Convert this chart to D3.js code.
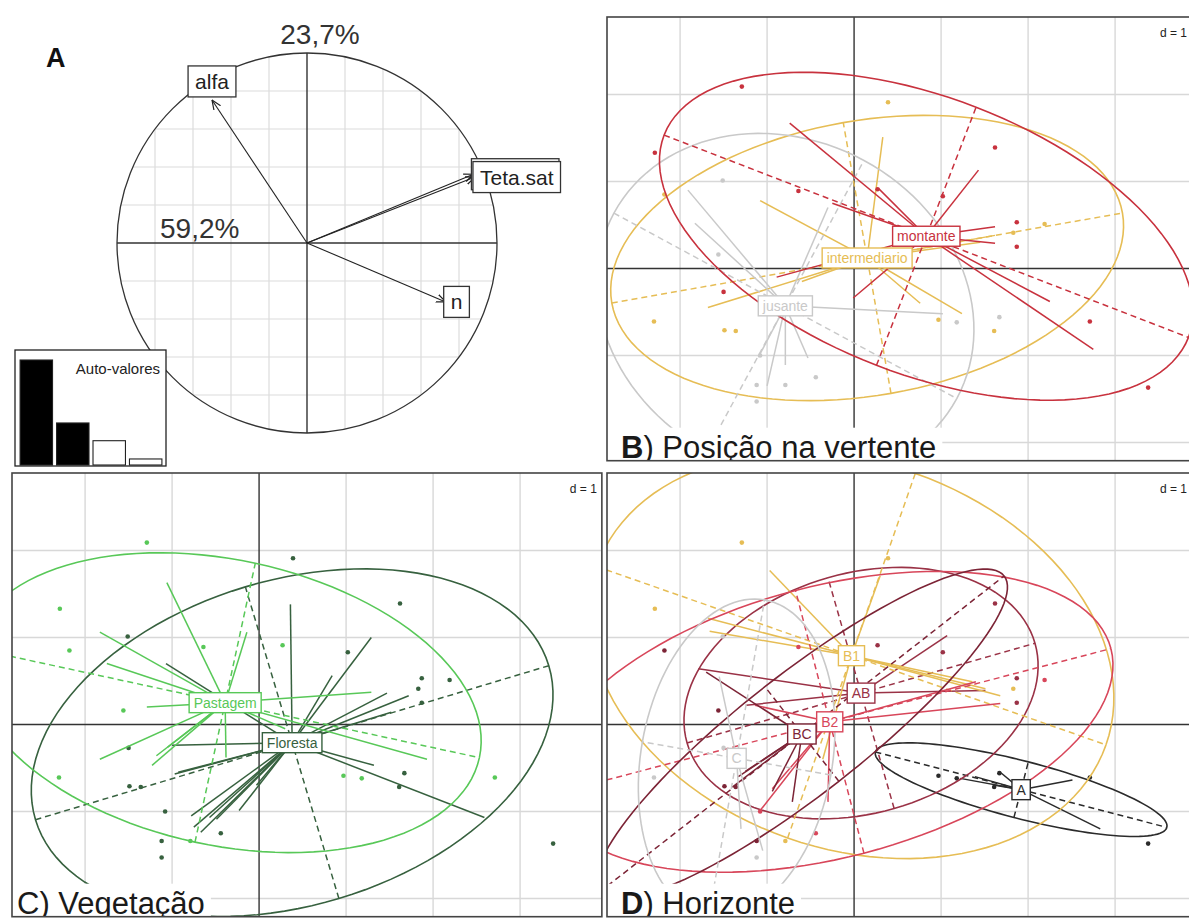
<!DOCTYPE html>
<html>
<head>
<meta charset="utf-8">
<script src="https://cdn.jsdelivr.net/npm/d3@7"></script>
<style>
  body { margin: 0; background: #fff; }
  svg { display: block; font-family: "Liberation Sans", Arial, Helvetica, sans-serif; }
</style>
</head>
<body>
<svg id="fig" width="1189" height="920"></svg>
<script>
// ---------------- Panel A: correlation circle + eigenvalues ----------------
const eigenvalues = [2.368, 0.948, 0.548, 0.136];
const varNames = ["alfa", "Teta.sat", "Teta.sat", "n"];
const varX = [-0.50, 0.876, 0.884, 0.73];
const varY = [0.753, 0.362, 0.347, -0.31];
const gridA = [-0.8, -0.6, -0.4, -0.2, 0.2, 0.4, 0.6, 0.8];

// ---------------- Panels B-D: individual scores on axes 1-2 ----------------
const xLim = [-2.84, 3.94];
const yLim = [-2.21, 2.89];

const obsX = [-1.29, 0.39, -2.29, 1.62, -1.51, -2.18, -0.64, 0.27, 1.02, 1.87, 2.19, 1.83, 1.87, -1.56, -1.50,
              -1.49, -1.36, -2.30, 0.97, 1.18, 1.67, 1.61, 2.71, -1.08, -0.44, -0.79, -1.12, -1.12, 3.38];
const obsY = [2.09, 1.91, 1.33, 1.39, 1.01, 0.85, 0.89, 0.91, 0.83, 0.53, 0.51, 0.41, 0.25, 0.16, -0.27,
              -0.71, -0.72, -0.61, -0.59, -0.62, -0.56, -0.72, -0.61, -1.00, -1.25, -1.34, -1.34, -1.53, -1.37];
const obsPos = ["montante", "intermediario", "montante", "montante", "jusante", "intermediario", "montante",
                "montante", "montante", "montante", "intermediario", "intermediario", "montante", "jusante",
                "montante", "intermediario", "intermediario", "intermediario", "intermediario", "jusante",
                "jusante", "intermediario", "montante", "jusante", "jusante", "jusante", "jusante", "jusante",
                "montante"];
const obsVeg = ["Pastagem", "Floresta", "Pastagem", "Floresta", "Floresta", "Pastagem", "Pastagem", "Pastagem",
                "Floresta", "Floresta", "Floresta", "Floresta", "Floresta", "Pastagem", "Floresta", "Floresta",
                "Floresta", "Pastagem", "Pastagem", "Pastagem", "Floresta", "Floresta", "Pastagem", "Floresta",
                "Floresta", "Pastagem", "Floresta", "Floresta", "Floresta"];
const obsHor = ["B1", "B1", "B1", "AB", "C", "BC", "B2", "AB", "AB", "AB", "B2", "B1", "AB", "BC", "C",
                "BC", "BC", "C", "A", "A", "A", "A", "A", "B2", "B2", "B1", "BC", "C", "A"];

// B) slope position
const posLevels = ["intermediario", "jusante", "montante"];
const posColors = ["#e6bd55", "#c9c9c9", "#c8323e"];
const posCx = [0.15, -0.79, 0.83];
const posCy = [0.12, -0.43, 0.37];
const posA = [2.98, 2.24, 3.23];
const posB = [1.58, 1.90, 1.59];
const posAng = [10.0, -28.4, -21.1];
const posStars = [
  [[-1.08, 0.78], [0.33, 1.51], [-1.68, -0.45], [1.62, 0.38], [1.24, -0.52], [0.76, -0.40], [-0.60, -0.15], [1.45, 0.30]],
  [[-1.91, 0.90], [-1.83, 0.52], [-0.30, 0.70], [1.02, -0.52], [-1.10, -1.02], [-0.79, -1.11], [-0.53, -1.03], [-1.00, -1.35]],
  [[-0.74, 1.67], [-0.25, 0.75], [1.43, 1.13], [1.62, 0.48], [1.62, 0.29], [2.25, -0.38], [2.75, -0.93], [-0.01, -0.34], [-0.89, -0.10], [0.28, 0.92]]
];

// C) vegetation
const vegLevels = ["Floresta", "Pastagem"];
const vegColors = ["#37613f", "#58c858"];
const vegCx = [0.38, -0.39];
const vegCy = [-0.21, 0.25];
const vegA = [3.08, 2.99];
const vegB = [1.87, 1.64];
const vegAng = [16.7, -12.2];
const vegStars = [
  [[-1.00, -0.24], [-0.97, -0.57], [-0.93, -0.55], [-0.78, -1.05], [-0.75, -1.18], [-0.67, -1.24], [-0.57, -1.07],
   [-0.49, -1.09], [-0.23, -0.99], [-0.03, -0.70], [0.36, 1.38], [1.29, 1.00], [0.84, 0.56], [1.47, 0.36],
   [1.72, 0.33], [1.52, 0.14], [1.32, -0.47], [2.59, -1.07], [-1.07, 0.70]],
  [[-1.06, 1.63], [-1.83, 1.06], [-1.75, 0.70], [-1.29, 0.20], [-0.14, 1.06], [-1.83, -0.40], [-1.23, -0.47],
   [-1.18, -0.36], [-1.05, -0.26], [-0.38, -0.38], [1.29, 0.37], [1.93, -0.40], [0.30, -0.05]]
];

// D) soil horizon
const horLevels = ["A", "AB", "B1", "B2", "BC", "C"];
const horColors = ["#2b2b2b", "#9a3246", "#e6bd55", "#d8465a", "#7c2436", "#c9c9c9"];
const horCx = [1.92, 0.08, -0.03, -0.28, -0.60, -1.35];
const horCy = [-0.75, 0.36, 0.79, 0.03, -0.11, -0.39];
const horA = [1.73, 2.08, 3.10, 3.34, 2.95, 1.85];
const horB = [0.33, 1.38, 2.22, 1.56, 0.69, 1.10];
const horAng = [-14.5, 16.0, -19.3, 14.6, 38.0, 80.0];
const horStars = [
  [[1.22, -0.62], [1.39, -0.60], [1.62, -0.70], [1.68, -0.55], [2.51, -0.64], [2.83, -1.20]],
  [[-1.24, 0.22], [-1.79, 0.64], [1.51, 0.39], [1.07, 1.02]],
  [[-0.97, 1.77], [-1.68, 1.22], [-1.66, 1.07], [0.30, 1.71], [1.36, 0.49], [1.51, 0.41], [1.68, 0.33], [-0.36, -0.40]],
  [[-1.14, 0.22], [1.40, 0.49], [1.68, 0.24], [-0.94, -0.74], [-1.08, -0.99], [-0.30, -0.89]],
  [[-1.25, -0.54], [-1.33, -0.60], [-1.40, -0.72], [-0.94, -0.77], [-0.71, -0.89], [-1.70, 0.60]],
  [[-1.55, 0.55], [-1.30, -1.20], [-1.05, -1.45]]
];

// ---------------------------------------------------------------------------
const WIDTH = 1189;
const svg = d3.select("#fig");
const defs = svg.append("defs");
const pct = v => (v / d3.sum(eigenvalues) * 100).toFixed(1).replace(".", ",") + "%";

// ----- Panel A -----
const xA = d3.scaleLinear().domain([-1, 1]).range([117, 497]);
const yA = d3.scaleLinear().domain([-1, 1]).range([433, 53]);
const gA = svg.append("g");

// grid kept inside the unit circle
const half = v => Math.sqrt(1 - v * v);
gA.selectAll("line.gv").data(gridA).join("line").attr("class", "gv")
  .attr("x1", d => xA(d)).attr("x2", d => xA(d)).attr("y1", d => yA(half(d))).attr("y2", d => yA(-half(d)))
  .attr("stroke", "#dcdcdc").attr("stroke-width", 1.2);
gA.selectAll("line.gh").data(gridA).join("line").attr("class", "gh")
  .attr("y1", d => yA(d)).attr("y2", d => yA(d)).attr("x1", d => xA(-half(d))).attr("x2", d => xA(half(d)))
  .attr("stroke", "#dcdcdc").attr("stroke-width", 1.2);

gA.append("circle").attr("cx", xA(0)).attr("cy", yA(0)).attr("r", xA(1) - xA(0))
  .attr("fill", "none").attr("stroke", "#333").attr("stroke-width", 1.3);
gA.append("line").attr("x1", xA(-1)).attr("x2", xA(1)).attr("y1", yA(0)).attr("y2", yA(0))
  .attr("stroke", "#333").attr("stroke-width", 1.4);
gA.append("line").attr("x1", xA(0)).attr("x2", xA(0)).attr("y1", yA(-1)).attr("y2", yA(1))
  .attr("stroke", "#333").attr("stroke-width", 1.4);

defs.append("marker").attr("id", "arrowHead").attr("viewBox", "0 0 10 10")
  .attr("refX", 9.5).attr("refY", 5).attr("markerWidth", 10).attr("markerHeight", 10)
  .attr("markerUnits", "userSpaceOnUse").attr("orient", "auto")
  .append("path").attr("d", "M0,1 L9.5,5 L0,9").attr("fill", "none").attr("stroke", "#222").attr("stroke-width", 1.2);

varNames.forEach((name, i) => {
  gA.append("line").attr("x1", xA(0)).attr("y1", yA(0)).attr("x2", xA(varX[i])).attr("y2", yA(varY[i]))
    .attr("stroke", "#222").attr("stroke-width", 1.1).attr("marker-end", "url(#arrowHead)");
});
varNames.forEach((name, i) => {
  const tx = xA(varX[i]), ty = yA(varY[i]);
  const gl = gA.append("g");
  const r = gl.append("rect");
  const t = gl.append("text").text(name).attr("font-size", 21).attr("fill", "#222");
  const w = t.node().getComputedTextLength() + 14, h = 31;
  // a label drawn again further on is only shown once, on the front box
  if (varNames.lastIndexOf(name) !== i) t.remove();
  let bx, by;
  if (Math.abs(varX[i]) >= Math.abs(varY[i])) {
    bx = varX[i] > 0 ? tx - 2 : tx - w + 2;
    by = ty - h / 2;
  } else {
    bx = tx - w / 2;
    by = varY[i] > 0 ? ty - h - 3 : ty + 3;
  }
  r.attr("x", bx).attr("y", by).attr("width", w).attr("height", h)
    .attr("fill", "#fff").attr("stroke", "#333").attr("stroke-width", 1.3);
  t.attr("x", bx + w / 2).attr("y", by + h / 2 + 7.5).attr("text-anchor", "middle");
});

gA.append("text").attr("x", 320).attr("y", 44).attr("text-anchor", "middle")
  .attr("font-size", 28).attr("fill", "#333").text(pct(eigenvalues[1]));
gA.append("text").attr("x", 160).attr("y", 238)
  .attr("font-size", 28).attr("fill", "#333").text(pct(eigenvalues[0]));
gA.append("text").attr("x", 46).attr("y", 67)
  .attr("font-size", 27).attr("font-weight", "bold").attr("fill", "#111").text("A");

// eigenvalue inset
const gE = svg.append("g");
gE.append("rect").attr("x", 15).attr("y", 350).attr("width", 151).attr("height", 116)
  .attr("fill", "#fff").attr("stroke", "#222").attr("stroke-width", 1.3);
const xE = d3.scaleBand().domain(d3.range(eigenvalues.length)).range([19, 163]).paddingInner(0.11).paddingOuter(0.03);
const yE = d3.scaleLinear().domain([0, d3.max(eigenvalues)]).range([465, 360]);
gE.selectAll("rect.bar").data(eigenvalues).join("rect").attr("class", "bar")
  .attr("x", (d, i) => xE(i)).attr("width", xE.bandwidth())
  .attr("y", d => yE(d)).attr("height", d => yE(0) - yE(d))
  .attr("fill", (d, i) => i < 2 ? "#000" : "#fff").attr("stroke", "#222").attr("stroke-width", 1.1);
gE.append("text").attr("x", 160).attr("y", 374).attr("text-anchor", "end")
  .attr("font-size", 15).attr("fill", "#222").text("Auto-valores");

// ----- Class panels (B, C, D) -----
const UNIT = 87;
const panelW = (xLim[1] - xLim[0]) * UNIT;
const panelH = (yLim[1] - yLim[0]) * UNIT;

function drawClassPanel(p) {
  const x = d3.scaleLinear().domain(xLim).range([p.left, p.left + panelW]);
  const y = d3.scaleLinear().domain(yLim).range([p.top + panelH, p.top]);
  defs.append("clipPath").attr("id", "clip-" + p.id)
    .append("rect").attr("x", p.left).attr("y", p.top).attr("width", panelW).attr("height", panelH);
  const g = svg.append("g").attr("clip-path", `url(#clip-${p.id})`);
  g.append("rect").attr("x", p.left).attr("y", p.top).attr("width", panelW).attr("height", panelH).attr("fill", "#fff");

  const gx = d3.range(Math.ceil(xLim[0]), Math.floor(xLim[1]) + 1).filter(v => v !== 0);
  const gy = d3.range(Math.ceil(yLim[0]), Math.floor(yLim[1]) + 1).filter(v => v !== 0);
  g.selectAll("line.gx").data(gx).join("line").attr("class", "gx")
    .attr("x1", d => x(d)).attr("x2", d => x(d)).attr("y1", p.top).attr("y2", p.top + panelH)
    .attr("stroke", "#d8d8d8").attr("stroke-width", 1.4);
  g.selectAll("line.gy").data(gy).join("line").attr("class", "gy")
    .attr("y1", d => y(d)).attr("y2", d => y(d)).attr("x1", p.left).attr("x2", p.left + panelW)
    .attr("stroke", "#d8d8d8").attr("stroke-width", 1.4);
  g.append("line").attr("x1", x(0)).attr("x2", x(0)).attr("y1", p.top).attr("y2", p.top + panelH)
    .attr("stroke", "#333").attr("stroke-width", 1.4);
  g.append("line").attr("y1", y(0)).attr("y2", y(0)).attr("x1", p.left).attr("x2", p.left + panelW)
    .attr("stroke", "#333").attr("stroke-width", 1.4);

  const line = d3.line().x(d => x(d[0])).y(d => y(d[1]));
  p.levels.forEach((lev, i) => {
    const col = p.colors[i];
    const th = p.ang[i] * Math.PI / 180, c = Math.cos(th), s = Math.sin(th);
    const cx = p.cx[i], cy = p.cy[i], a = p.a[i], b = p.b[i];
    const ring = d3.range(0, 361, 3).map(deg => {
      const t = deg * Math.PI / 180;
      return [cx + a * c * Math.cos(t) - b * s * Math.sin(t), cy + a * s * Math.cos(t) + b * c * Math.sin(t)];
    });
    g.append("path").attr("d", line(ring)).attr("fill", "none").attr("stroke", col).attr("stroke-width", 1.6);
    const axes = [
      [[cx - a * c, cy - a * s], [cx + a * c, cy + a * s]],
      [[cx + b * s, cy - b * c], [cx - b * s, cy + b * c]]
    ];
    g.selectAll(null).data(axes).join("path").attr("d", d => line(d))
      .attr("stroke", col).attr("stroke-width", 1.5).attr("stroke-dasharray", "6,4").attr("fill", "none");
    g.selectAll(null).data(p.stars[i]).join("line")
      .attr("x1", x(cx)).attr("y1", y(cy)).attr("x2", d => x(d[0])).attr("y2", d => y(d[1]))
      .attr("stroke", col).attr("stroke-width", 1.5);
    const idx = d3.range(obsX.length).filter(k => p.member[k] === lev);
    g.selectAll(null).data(idx).join("circle")
      .attr("cx", k => x(obsX[k])).attr("cy", k => y(obsY[k])).attr("r", 2.3).attr("fill", col);
  });

  // class labels at the centroids
  p.levels.forEach((lev, i) => {
    const gl = g.append("g");
    const r = gl.append("rect");
    const t = gl.append("text").text(lev).attr("font-size", 14).attr("fill", p.colors[i])
      .attr("x", x(p.cx[i])).attr("y", y(p.cy[i]) + 5).attr("text-anchor", "middle");
    const w = t.node().getComputedTextLength() + 9, h = 20;
    r.attr("x", x(p.cx[i]) - w / 2).attr("y", y(p.cy[i]) - h / 2).attr("width", w).attr("height", h)
      .attr("fill", "#fff").attr("stroke", p.colors[i]).attr("stroke-width", 1.4);
  });

  // grid size note (kept inside the drawing area)
  const noteRight = Math.min(p.left + panelW - 5, WIDTH - 2);
  const gd = g.append("g");
  const rd = gd.append("rect");
  const td = gd.append("text").text("d = 1").attr("font-size", 12).attr("fill", "#222")
    .attr("x", noteRight).attr("y", p.top + 20).attr("text-anchor", "end");
  const wd = td.node().getComputedTextLength();
  rd.attr("x", noteRight - 3 - wd).attr("y", p.top + 8).attr("width", wd + 8).attr("height", 16).attr("fill", "#fff");

  // sub-title
  const gt = g.append("g");
  const rt = gt.append("rect");
  const tt = gt.append("text").attr("x", p.left + p.titleDx).attr("y", p.top + panelH - 3)
    .attr("font-size", 31).attr("fill", "#1a1a1a");
  tt.append("tspan").attr("font-weight", p.leadBold ? "bold" : "normal").text(p.lead);
  tt.append("tspan").text(p.rest);
  const wt = tt.node().getComputedTextLength();
  rt.attr("x", p.left).attr("y", p.top + panelH - 33).attr("width", wt + p.titleDx + 6).attr("height", 33).attr("fill", "#fff");

  svg.append("rect").attr("x", p.left).attr("y", p.top).attr("width", panelW).attr("height", panelH)
    .attr("fill", "none").attr("stroke", "#444").attr("stroke-width", 1.6);
}

drawClassPanel({
  id: "B", left: 607, top: 17, levels: posLevels, colors: posColors, cx: posCx, cy: posCy,
  a: posA, b: posB, ang: posAng, stars: posStars, member: obsPos,
  lead: "B", rest: ") Posição na vertente", leadBold: true, titleDx: 14
});
drawClassPanel({
  id: "C", left: 12, top: 473, levels: vegLevels, colors: vegColors, cx: vegCx, cy: vegCy,
  a: vegA, b: vegB, ang: vegAng, stars: vegStars, member: obsVeg,
  lead: "C", rest: ") Vegetação", leadBold: false, titleDx: 5
});
drawClassPanel({
  id: "D", left: 607, top: 473, levels: horLevels, colors: horColors, cx: horCx, cy: horCy,
  a: horA, b: horB, ang: horAng, stars: horStars, member: obsHor,
  lead: "D", rest: ") Horizonte", leadBold: true, titleDx: 14
});
</script>
</body>
</html>
